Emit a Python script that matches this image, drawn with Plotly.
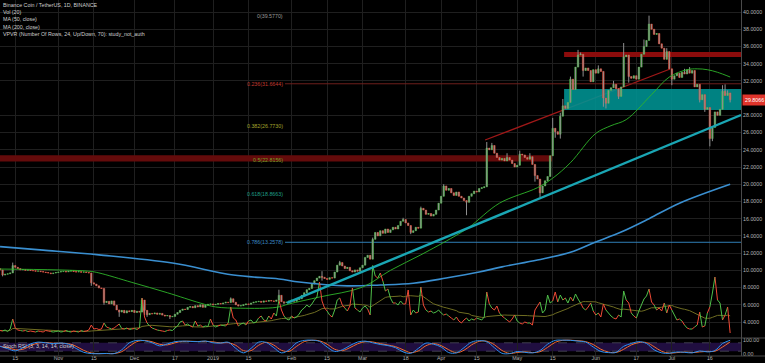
import plotly.graph_objects as go
import pandas as pd

# ---------------- DATA ----------------
START = "2018-10-09"
N_DAYS = 289
first_open = 10.20

close = [
    10.05, 9.45, 9.55, 9.60, 9.70, 10.55, 10.35, 10.20, 10.05, 10.10,
    10.00, 10.05, 9.98, 9.95, 9.90, 9.92, 9.85, 9.80, 9.75, 9.70,
    9.62, 9.68, 9.75, 9.80, 9.85, 9.88, 9.82, 9.90, 9.95, 9.86,
    9.80, 9.85, 9.78, 9.82, 9.75, 9.70,
    8.55, 8.40, 8.20, 7.95, 7.90, 6.25, 6.40, 6.10, 6.45, 5.95,
    5.40, 5.15, 5.35, 5.05, 5.30, 5.20, 5.35, 5.10, 5.25, 5.15,
    6.55, 5.35, 4.85, 5.00, 4.95, 5.05, 4.90, 5.00, 4.80, 4.70,
    4.75, 4.60, 4.65, 4.90, 5.10, 5.35, 5.50, 5.45, 5.70, 5.80,
    5.65, 5.90, 5.75, 6.00, 5.70, 5.95, 6.05, 6.10,
    6.00, 6.05, 6.15, 6.10, 6.20, 6.30, 6.25, 6.70, 6.30, 6.00,
    5.85, 5.90, 6.00, 6.10, 6.05, 6.20, 6.30, 6.35, 6.40, 6.30,
    6.45, 6.40, 6.50, 6.45, 6.40, 6.55, 7.10, 6.35,
    6.25, 6.30, 6.45, 6.55, 6.40, 6.60, 6.70, 7.10, 7.40, 7.75,
    7.90, 8.40, 8.80, 9.10, 9.30, 9.20, 9.05, 8.95, 9.15, 9.10,
    9.80, 10.60, 10.90, 10.50, 10.20, 10.35, 9.95, 9.80, 10.05, 9.90,
    10.30, 10.60, 11.50, 11.75, 11.30, 13.60,
    14.40, 14.00, 14.60, 14.30, 14.80, 14.40, 14.70, 15.00, 14.80, 15.20,
    15.70, 15.90, 15.50, 15.20, 14.40, 14.60, 15.00, 14.90, 17.20, 17.00,
    16.50, 16.60, 16.30, 16.50, 17.00, 17.80, 18.60, 19.80, 19.30, 19.50,
    19.00, 18.70, 19.10, 18.60, 18.40, 18.10, 17.90, 18.60, 18.90, 19.20,
    19.10, 19.50, 19.60, 19.70, 24.20,
    24.00, 24.50, 23.60, 23.10, 22.80, 23.00, 22.70, 23.10, 22.80, 22.40,
    22.00, 22.20, 23.50, 23.40, 23.10, 22.90, 23.20, 22.30, 21.00, 20.60,
    19.00, 19.80, 20.40, 20.90, 23.30, 26.50, 26.10, 25.80, 27.90, 29.10,
    28.80, 29.50,
    32.20, 31.00, 33.60, 35.00, 35.10, 33.20, 33.50, 33.20, 31.90, 33.30,
    32.90, 33.40, 33.10, 30.00, 29.40, 30.90, 31.20, 31.60, 31.10, 30.20,
    31.30, 34.80, 35.00, 32.50, 32.30, 32.60, 32.20, 33.60, 35.10, 36.00,
    36.70, 38.60,
    38.00, 37.40, 37.50, 36.30, 35.80, 34.50, 35.40, 33.40, 32.20, 32.60,
    32.90, 32.40, 33.00, 32.80, 33.30, 32.90, 33.20, 31.30, 31.60, 29.80,
    30.40, 28.70, 28.90, 25.30, 26.60, 28.40, 28.00, 28.70, 30.80, 30.30,
    30.60, 29.8066,
]

wick_high = {5: 10.9, 56: 6.75, 91: 6.85, 110: 7.75, 127: 9.9, 134: 11.1, 147: 13.8,
             159: 16.1, 166: 17.4, 175: 20.0, 192: 24.9, 194: 24.8, 200: 23.6, 205: 23.9,
             209: 23.6, 218: 27.7, 221: 28.3, 222: 29.9, 225: 32.5, 228: 35.6, 229: 35.3,
             236: 33.8, 242: 32.0, 246: 36.4, 254: 36.8, 256: 39.577, 258: 38.0, 263: 35.8,
             270: 33.4, 272: 33.6, 285: 31.5, 286: 31.6, 287: 30.9}
wick_low = {1: 9.3, 36: 8.2, 41: 6.0, 47: 4.6, 57: 4.8, 58: 4.6, 67: 4.35, 112: 6.06,
            127: 8.8, 162: 14.2, 184: 16.4, 211: 20.3, 213: 18.5, 214: 19.2, 219: 25.4,
            221: 25.3, 222: 28.2, 230: 32.5, 238: 29.0, 239: 28.8, 244: 29.9, 248: 31.8,
            265: 31.5, 276: 29.5, 278: 28.4, 280: 24.4, 281: 25.0, 288: 29.5}

volume = [
    1.5, 1.4, 1.6, 1.3, 1.8, 3.8, 2.0, 1.6, 1.5, 1.4, 1.5, 1.3, 1.4,
    1.3, 1.2, 1.4, 1.3, 1.2, 1.5, 1.4, 1.3, 1.2, 1.3, 1.4, 1.2, 1.3, 1.5, 1.3, 1.2,
    1.4, 1.3, 1.2, 1.5, 1.3, 1.4, 1.6, 2.6, 1.8, 1.9, 1.7, 1.8,
    3.0, 2.2, 2.0, 1.8, 2.0, 2.4, 2.8, 1.9, 1.8, 2.0, 1.7, 1.8, 1.9, 1.7, 2.0,
    8.0, 4.2, 3.0, 2.4, 2.0, 1.8, 1.6, 1.5, 1.4, 1.3, 1.5, 1.6, 1.5, 2.0, 2.4,
    3.2, 3.4, 2.6, 2.8, 2.4, 2.2, 3.4, 2.4, 2.6, 2.2, 2.4, 2.3, 3.8, 2.6, 2.2,
    2.4, 2.6, 2.5, 2.4, 3.0,
    6.2, 4.0, 3.6, 2.4, 2.8, 3.0, 2.6, 3.4, 3.6, 3.0, 3.2, 4.0, 4.4, 3.6, 3.4,
    4.4, 3.8, 5.0, 4.4, 7.6, 5.6, 4.4, 3.8, 3.6, 4.4, 4.0, 4.2, 4.8, 5.6, 6.0,
    6.6, 6.2, 6.8, 7.6, 8.2,
    11.2, 7.4, 6.0, 5.4, 4.6, 4.2, 5.6, 7.6, 8.0, 6.6, 6.0, 5.4, 6.4, 10.0, 6.0,
    5.6, 5.2, 6.0, 6.4, 5.8, 4.6, 14.5, 12.4, 12.0, 13.0, 11.4, 9.4, 9.8, 8.0, 7.0,
    7.0, 6.6, 7.4, 6.8, 6.8,
    9.6, 4.6, 5.6, 5.0, 5.2, 10.2, 6.6, 5.6, 5.2, 5.4, 5.0, 5.2, 5.6, 5.0, 4.6,
    4.8, 4.4, 4.0, 3.6, 4.2, 3.4, 3.0, 3.6, 4.0, 3.4, 3.8, 3.6, 4.0, 3.8, 3.6,
    4.2, 9.2,
    6.8, 6.0, 5.6, 6.4, 5.0, 4.4, 4.0, 3.6, 3.2, 3.8, 4.6, 3.4, 3.0, 2.8, 3.2,
    3.0, 3.0, 2.6, 5.6, 6.4, 7.2, 5.0, 5.6, 8.6, 7.0, 7.4, 9.2, 7.2, 8.6, 7.6,
    8.0, 7.0,
    8.2, 7.4, 8.8, 7.8, 7.0, 6.0, 5.6, 6.2, 7.0, 5.4, 4.6, 5.0, 4.2, 6.8, 5.6,
    5.0, 4.4, 4.0, 3.8, 4.6, 4.2, 9.4, 7.6, 7.0, 5.0, 4.4, 4.0, 5.4, 6.6, 7.8,
    8.4, 9.8,
    7.2, 6.6, 5.6, 6.0, 5.4, 7.0, 5.0, 6.6, 5.6, 4.6, 3.6, 3.8, 3.4, 2.6, 2.0,
    1.8, 1.8, 2.2, 2.6, 5.2, 2.2, 2.4, 5.0, 6.2, 9.0, 12.2, 7.6, 7.0, 3.6, 4.6,
    6.2, 1.0,
]

ma50_day = [0, 35, 39, 52, 66, 79, 85, 95, 109, 114, 126, 143, 154, 166, 179, 185, 197,
            212, 218, 225, 235, 241, 247, 257, 264, 271, 275, 279, 283, 288]
ma50_val = [10.15, 9.9, 9.7, 8.6, 7.4, 6.2, 5.75, 5.6, 5.7, 6.1, 6.9, 8.05, 10.0, 11.8,
            13.9, 15.0, 17.8, 19.6, 20.7, 22.5, 25.9, 26.8, 27.5, 30.4, 32.45, 33.3,
            33.4, 33.3, 33.0, 32.45]

ma200_day = [0, 17, 39, 68, 92, 110, 118, 137, 150, 163, 176, 189, 198, 212, 225, 235,
             245, 256, 268, 288]
ma200_val = [12.75, 12.35, 11.8, 10.85, 9.45, 9.0, 8.65, 8.2, 8.3, 8.5, 9.1, 9.8, 10.4,
             11.2, 12.1, 13.3, 14.45, 16.0, 17.8, 20.0]

stoch_day = list(range(0, N_DAYS, 3))
stoch_k = [55, 38, 22, 45, 72, 85, 80, 74, 78, 70,
           40, 12, 3, 2, 4, 3, 30, 80, 97, 95,
           80, 58, 72, 88, 92, 90, 88, 93, 80, 78,
           84, 40, 8, 40, 85, 82, 45, 8, 30, 80,
           97, 99, 90, 50, 18, 30, 60, 85, 92, 80,
           68, 60, 45, 15, 5, 40, 78, 70, 50, 10,
           8, 45, 85, 95, 88, 45, 5, 3, 18, 12,
           8, 25, 70, 97, 99, 98, 92, 85, 50, 18,
           10, 12, 55, 75, 88, 75, 30, 8, 5, 15,
           12, 8, 22, 15, 25, 75, 98]

fib_anchor = "2019-01-29 10:00"
fib_levels = [39.5770, 31.6644, 26.7730, 22.8156, 18.8663, 13.2578]
fib_labels = ["0(39.5770)", "0.236(31.6644)", "0.382(26.7730)", "0.5(22.8156)",
              "0.618(18.8663)", "0.786(13.2578)"]
fib_colors = ["#9a9a9a", "#c23a30", "#a3a32c", "#74a027", "#1f9e86", "#3b88c4"]

red_trend_x = ["2019-04-18 08:00", "2019-06-30 08:00"]
red_trend_y = [25.13, 33.38]
teal_trend_x = ["2019-01-30 05:00", "2019-07-28 07:00"]
teal_trend_y = [6.21, 28.04]

band_low_y = [22.65, 23.35]
band_low_x = ["2018-10-08 23:30", "2019-05-14 18:00"]
band_high_y = [34.77, 35.35]
zone_y = [28.62, 31.06]
zone_x0 = "2019-05-19 12:00"

tick_dates = ["2018-10-15", "2018-11-01", "2018-11-15", "2018-12-01", "2018-12-17",
              "2019-01-01", "2019-01-15", "2019-02-01", "2019-02-15", "2019-03-01",
              "2019-03-18", "2019-04-01", "2019-04-15", "2019-05-01", "2019-05-15",
              "2019-06-01", "2019-06-17", "2019-07-01", "2019-07-16"]
tick_text = ["15", "Nov", "15", "Dec", "17", "2019", "15", "Feb", "15", "Mar",
             "18", "Apr", "15", "May", "15", "Jun", "17", "Jul", "16"]

price_ticks = [4, 6, 8, 10, 12, 14, 16, 18, 20, 22, 24, 26, 28, 32, 34, 36, 38, 40]

X_RANGE = ["2018-10-08 23:30", "2019-07-28 06:45"]
last_price = close[-1]

header = ["Binance Coin / TetherUS, 1D, BINANCE", "Vol (20)", "MA (50, close)",
          "MA (200, close)", "VPVR (Number Of Rows, 24, Up/Down, 70): study_not_auth"]

# ---------------- STYLE ----------------
W, H = 765, 363
UP, DOWN = "#4fbf4a", "#f04a36"
BG = "#000000"
GRID = "#1f1f1f"
TXT = "#b4b4b4"
FONT = "Liberation Sans"
FS = 5.3

dates = pd.date_range(START, periods=N_DAYS, freq="D")
opens = [first_open] + close[:-1]
body_hi = [max(o, c) for o, c in zip(opens, close)]
body_lo = [min(o, c) for o, c in zip(opens, close)]
hi = [max(wick_high.get(i, body_hi[i]), body_hi[i]) for i in range(N_DAYS)]
lo = [min(wick_low.get(i, body_lo[i]), body_lo[i]) for i in range(N_DAYS)]

fig = go.Figure()

# wicks
wx, wy = [], []
for i in range(N_DAYS):
    wx += [dates[i], dates[i], None]
    wy += [lo[i], hi[i], None]
fig.add_trace(go.Scatter(x=wx, y=wy, mode="lines", line=dict(color="#8f8f8f", width=1),
                         hoverinfo="skip"))

fig.add_trace(go.Candlestick(
    x=dates, open=opens, high=body_hi, low=body_lo, close=close,
    increasing=dict(line=dict(color=UP, width=0.5), fillcolor=UP),
    decreasing=dict(line=dict(color=DOWN, width=0.5), fillcolor=DOWN),
    whiskerwidth=0, hoverinfo="skip"))

fig.add_trace(go.Scatter(x=dates[ma200_day], y=ma200_val, mode="lines", line_shape="spline",
                         line=dict(color="#3a8fd0", width=1.6), hoverinfo="skip"))
fig.add_trace(go.Scatter(x=dates[ma50_day], y=ma50_val, mode="lines", line_shape="spline",
                         line=dict(color="#2fb52a", width=0.9), hoverinfo="skip"))

# volume (overlay axis y3)
gx, gy, rx, ry = [], [], [], []
for i in range(1, N_DAYS):
    seg_x = [dates[i - 1], dates[i], None]
    seg_y = [volume[i - 1], volume[i], None]
    if close[i] >= opens[i]:
        gx += seg_x; gy += seg_y
    else:
        rx += seg_x; ry += seg_y
vol_ma = pd.Series(volume).rolling(20, min_periods=1).mean()
fig.add_trace(go.Scatter(x=dates, y=vol_ma, yaxis="y3", mode="lines",
                         line=dict(color="#6f6d22", width=1), hoverinfo="skip"))
fig.add_trace(go.Scatter(x=gx, y=gy, yaxis="y3", mode="lines",
                         line=dict(color=UP, width=1), hoverinfo="skip"))
fig.add_trace(go.Scatter(x=rx, y=ry, yaxis="y3", mode="lines",
                         line=dict(color=DOWN, width=1), hoverinfo="skip"))

# stoch rsi (y2)
stoch_d = pd.Series(stoch_k).rolling(2, min_periods=1).mean()
fig.add_trace(go.Scatter(x=dates[stoch_day], y=stoch_d, yaxis="y2", mode="lines",
                         line_shape="spline", line=dict(color="#f26b2d", width=1),
                         hoverinfo="skip"))
fig.add_trace(go.Scatter(x=dates[stoch_day], y=stoch_k, yaxis="y2", mode="lines",
                         line_shape="spline", line=dict(color="#2a8ff0", width=1),
                         hoverinfo="skip"))

# ---------------- SHAPES ----------------
shapes = []
shapes.append(dict(type="rect", xref="x", yref="y", layer="between",
                   x0=band_low_x[0], x1=band_low_x[1], y0=band_low_y[0], y1=band_low_y[1],
                   fillcolor="#640b0b", line=dict(width=0)))
shapes.append(dict(type="rect", xref="x", yref="y", layer="between",
                   x0=zone_x0, x1=X_RANGE[1], y0=band_high_y[0], y1=band_high_y[1],
                   fillcolor="#8c0c0c", line=dict(width=0)))
shapes.append(dict(type="line", xref="x", yref="y", layer="between",
                   x0=red_trend_x[0], x1=red_trend_x[1], y0=red_trend_y[0], y1=red_trend_y[1],
                   line=dict(color="#a01818", width=1.2)))
shapes.append(dict(type="rect", xref="x", yref="y", layer="between",
                   x0=zone_x0, x1=X_RANGE[1], y0=zone_y[0], y1=zone_y[1],
                   fillcolor="rgba(0,148,148,0.88)", line=dict(width=0)))
shapes.append(dict(type="line", xref="x", yref="y", layer="between",
                   x0=fib_anchor, x1=X_RANGE[1], y0=fib_levels[1], y1=fib_levels[1],
                   line=dict(color="#6e1f1c", width=1)))
shapes.append(dict(type="line", xref="x", yref="y", layer="between",
                   x0=fib_anchor, x1=X_RANGE[1], y0=fib_levels[5], y1=fib_levels[5],
                   line=dict(color="#2f7fb6", width=1)))
shapes.append(dict(type="line", xref="x", yref="y", layer="above",
                   x0=teal_trend_x[0], x1=teal_trend_x[1], y0=teal_trend_y[0], y1=teal_trend_y[1],
                   line=dict(color="#1aa6b4", width=2.4)))
shapes.append(dict(type="rect", xref="x domain", yref="y2", layer="below",
                   x0=0, x1=1, y0=20, y1=80, fillcolor="#200e40", line=dict(width=0)))
for lv in (20, 80):
    shapes.append(dict(type="line", xref="x domain", yref="y2", layer="below",
                       x0=0, x1=1, y0=lv, y1=lv, line=dict(color="#4d4d5a", width=0.8, dash="dash")))
for py in (338, 356):
    shapes.append(dict(type="line", xref="paper", yref="paper", x0=0, x1=1,
                       y0=1 - py / H, y1=1 - py / H, line=dict(color="#4a4a4a", width=1)))

# ---------------- ANNOTATIONS ----------------
ann = []
for j, t in enumerate(header):
    py = [5, 12, 19.3, 26.7, 34][j]
    ann.append(dict(xref="paper", yref="paper", x=0.002, y=1 - py / H, text=t,
                    showarrow=False, xanchor="left", yanchor="middle", borderpad=0,
                    font=dict(color="#cfcfcf", size=FS, family=FONT)))
for lvl, lab, col in zip(fib_levels, fib_labels, fib_colors):
    ann.append(dict(xref="x", yref="y", x=fib_anchor, y=lvl, text=lab, showarrow=False,
                    xanchor="right", yanchor="middle", xshift=-1, borderpad=0,
                    font=dict(color=col, size=FS, family=FONT)))
ann.append(dict(xref="paper", yref="y", x=742 / W, y=last_price, text=f"{last_price:.4f}",
                showarrow=False, xanchor="left", yanchor="middle", bgcolor="#e0342b",
                borderpad=2, font=dict(color="#ffffff", size=FS, family=FONT)))
ann.append(dict(xref="paper", yref="paper", x=0.002, y=1 - 346 / H,
                text="Stoch RSI (3, 3, 14, 14, close)", showarrow=False, borderpad=0,
                xanchor="left", yanchor="middle", font=dict(color="#cfcfcf", size=FS, family=FONT)))

# ---------------- LAYOUT ----------------
px_per_unit = 8.611
p_top = 40 + 12 / px_per_unit
p_bot = 4 - (338 - 322) / px_per_unit
s_per = 14 / 100

fig.update_layout(
    width=W, height=H, margin=dict(l=0, r=0, t=0, b=0, autoexpand=False),
    paper_bgcolor=BG, plot_bgcolor=BG, showlegend=False, hovermode=False,
    font=dict(family=FONT, size=FS, color=TXT), boxgap=0.15,
    shapes=shapes, annotations=ann,
    xaxis=dict(domain=[0, 741 / W], range=X_RANGE, anchor="y2", type="date",
               tickvals=tick_dates, ticktext=tick_text, showgrid=True, gridcolor=GRID,
               gridwidth=1, ticks="", tickfont=dict(size=FS, color=TXT),
               ticklabelstandoff=-2,
               rangeslider=dict(visible=False), zeroline=False, showline=False),
    yaxis=dict(domain=[1 - 338 / H, 1], range=[p_bot, p_top], side="right", anchor="x",
               tickvals=price_ticks, tickformat=".4f", showgrid=True, gridcolor=GRID,
               ticks="", tickfont=dict(size=FS, color=TXT), zeroline=False,
               showline=True, linecolor="#4a4a4a", linewidth=1),
    yaxis2=dict(domain=[1 - 356 / H, 1 - 338 / H],
                range=[-(356 - 354) / s_per, 100 + (340 - 338) / s_per],
                side="right", anchor="x", tickvals=[0, 100], ticktext=["0.00", "100.00"],
                showgrid=False, ticks="", tickfont=dict(size=FS, color=TXT), zeroline=False,
                showline=True, linecolor="#4a4a4a", linewidth=1),
    yaxis3=dict(overlaying="y", range=[0, 338 / 5.0], visible=False, showgrid=False),
)

fig.write_html("out.html", config={"displayModeBar": False, "staticPlot": True},
               post_script=(
    "document.documentElement.style.margin='0';document.body.style.margin='0';"
    "document.body.style.padding='0';document.body.style.overflow='hidden';"
    "document.body.style.background='#000';"))
